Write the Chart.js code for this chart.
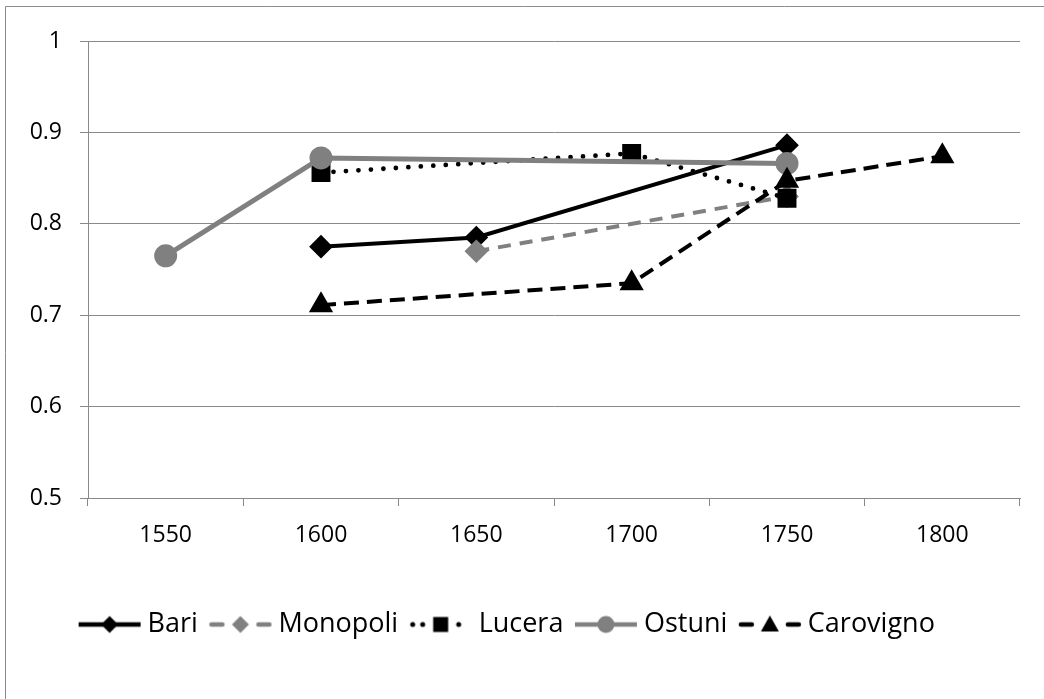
<!DOCTYPE html>
<html>
<head>
<meta charset="utf-8">
<script src="https://cdn.jsdelivr.net/npm/chart.js@4"></script>
<style>
html, body { margin: 0; padding: 0; background: #fff; }
</style>
</head>
<body>
<canvas id="myChart" width="1044" height="699"></canvas>
<script>
// categories (x axis)
let years = ["1550", "1600", "1650", "1700", "1750", "1800"];
// series values, null where a town has no value
let bari = [null, 0.775, 0.785, null, 0.886, null];
let monopoli = [null, null, 0.77, null, 0.83, null];
let lucera = [null, 0.856, null, 0.877, 0.828, null];
let ostuni = [0.765, 0.872, null, null, 0.866, null];
let carovigno = [null, 0.711, null, 0.735, 0.847, 0.874];

let black = "#000000";
let grey = "#808080";
let axisGrey = "#898989";
let fontName = "'Open Sans', sans-serif";

// little canvas with line + marker, used as legend symbol
function legendSample(color, kind, marker) {
	let c = document.createElement("canvas");
	c.width = 66;
	c.height = 24;
	let g = c.getContext("2d");
	let cy = 12;
	g.strokeStyle = color;
	g.fillStyle = color;
	g.lineWidth = 4.5;
	if (kind == "solid") {
		g.beginPath();
		g.moveTo(2, cy);
		g.lineTo(64, cy);
		g.stroke();
	} else if (kind == "dash") {
		g.lineCap = "round";
		g.beginPath();
		g.moveTo(4, cy);
		g.lineTo(15, cy);
		g.moveTo(51, cy);
		g.lineTo(62, cy);
		g.stroke();
	} else if (kind == "dot") {
		[5, 15, 51].forEach(function (x) {
			g.beginPath();
			g.arc(x, cy, 2.5, 0, Math.PI * 2);
			g.fill();
		});
	}
	g.beginPath();
	let x = 33;
	if (marker == "diamond") {
		g.moveTo(x - 8.5, cy);
		g.lineTo(x, cy - 8.5);
		g.lineTo(x + 8.5, cy);
		g.lineTo(x, cy + 8.5);
	} else if (marker == "square") {
		g.rect(x - 7.5, cy - 7.5, 15, 15);
	} else if (marker == "circle") {
		g.arc(x, cy, 8.5, 0, Math.PI * 2);
	} else if (marker == "triangle") {
		g.moveTo(x, cy - 9);
		g.lineTo(x + 9, cy + 7);
		g.lineTo(x - 9, cy + 7);
	}
	g.closePath();
	g.fill();
	return c;
}

let legendSamples = [
	legendSample(black, "solid", "diamond"),
	legendSample(grey, "dash", "diamond"),
	legendSample(black, "dot", "square"),
	legendSample(grey, "solid", "circle"),
	legendSample(black, "dash", "triangle"),
];

// draws the outer frame (left and top edges only)
let framePlugin = {
	id: "frame",
	beforeDraw: function (chart) {
		let ctx = chart.ctx;
		ctx.save();
		ctx.fillStyle = "#fff";
		ctx.fillRect(0, 0, chart.width, chart.height);
		ctx.strokeStyle = "#8c8c8c";
		ctx.lineWidth = 1;
		ctx.beginPath();
		ctx.moveTo(5.5, chart.height);
		ctx.lineTo(5.5, 6.5);
		ctx.lineTo(chart.width, 6.5);
		ctx.stroke();
		ctx.restore();
	},
};

let ctx = document.getElementById("myChart").getContext("2d");
let myChart = new Chart(ctx, {
	type: "line",
	data: {
		labels: years,
		datasets: [
			{
				label: "Bari",
				data: bari,
				borderColor: black,
				backgroundColor: black,
				borderWidth: 4,
				pointStyle: "rectRot",
				pointRadius: 9,
				order: 5,
			},
			{
				label: "Monopoli",
				data: monopoli,
				borderColor: grey,
				backgroundColor: grey,
				borderWidth: 4,
				borderDash: [13, 9],
				pointStyle: "rectRot",
				pointRadius: 9,
				order: 4,
			},
			{
				label: "Lucera",
				data: lucera,
				borderColor: black,
				backgroundColor: black,
				borderWidth: 4.8,
				borderDash: [0, 12.5],
				borderCapStyle: "round",
				pointStyle: "rect",
				pointRadius: 10,
				order: 3,
			},
			{
				label: "Ostuni",
				data: ostuni,
				borderColor: grey,
				backgroundColor: grey,
				borderWidth: 5,
				pointStyle: "circle",
				pointRadius: 9,
				order: 2,
			},
			{
				label: "Carovigno",
				data: carovigno,
				borderColor: black,
				backgroundColor: black,
				borderWidth: 4,
				borderDash: [15, 8],
				pointStyle: "triangle",
				pointRadius: 10,
				order: 1,
			},
		],
	},
	options: {
		responsive: false,
		animation: false,
		devicePixelRatio: 1,
		spanGaps: true,
		layout: { padding: { left: 0, right: 24, top: 41, bottom: 51 } },
		elements: {
			line: { tension: 0 },
			point: { borderWidth: 1, hoverRadius: 9 },
		},
		scales: {
			x: {
				offset: true,
				grid: {
					offset: true,
					drawOnChartArea: false,
					drawTicks: true,
					tickLength: 8,
					color: axisGrey,
				},
				border: { color: axisGrey },
				ticks: {
					color: "#000",
					font: { family: fontName, size: 23 },
					padding: 16,
					maxRotation: 0,
				},
				afterFit: function (scale) {
					scale.height = 95;
				},
			},
			y: {
				min: 0.5,
				max: 1,
				grid: { color: axisGrey, tickLength: 8 },
				border: { color: axisGrey },
				ticks: {
					stepSize: 0.1,
					color: "#000",
					font: { family: fontName, size: 23 },
					padding: 18,
					callback: function (v) {
						return String(+v.toFixed(1));
					},
				},
				afterFit: function (scale) {
					scale.width = 88;
				},
			},
		},
		plugins: {
			tooltip: { enabled: false },
			legend: {
				position: "bottom",
				labels: {
					usePointStyle: true,
					pointStyleWidth: 49,
					padding: 18,
					color: "#000",
					font: { family: fontName, size: 27 },
					generateLabels: function (chart) {
						return chart.data.datasets.map(function (ds, i) {
							return {
								text: ds.label,
								pointStyle: legendSamples[i],
								fillStyle: ds.backgroundColor,
								strokeStyle: ds.borderColor,
								lineWidth: 0,
								hidden: false,
								datasetIndex: i,
								fontColor: "#000",
							};
						});
					},
				},
			},
		},
	},
	plugins: [framePlugin],
});
</script>
</body>
</html>
